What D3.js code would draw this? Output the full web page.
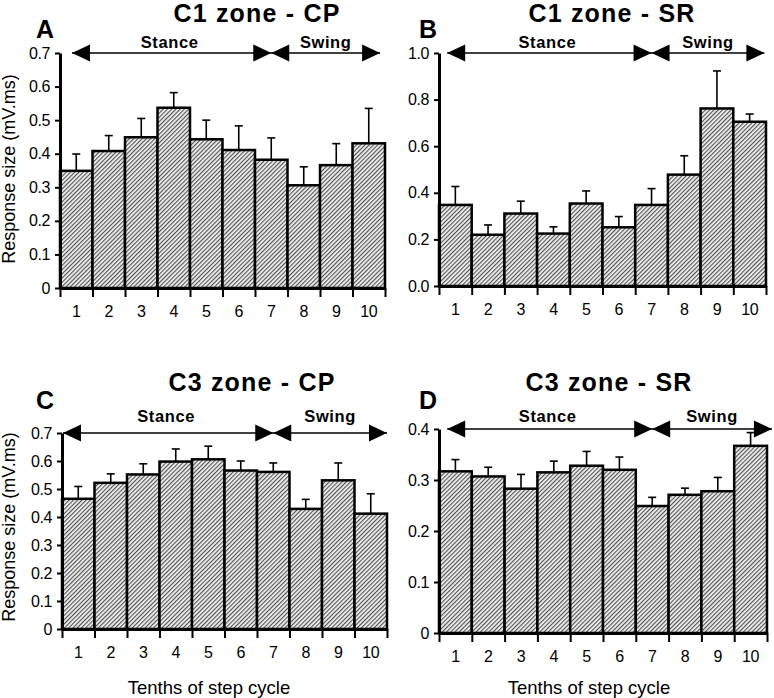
<!DOCTYPE html>
<html><head><meta charset="utf-8">
<script src="https://cdn.jsdelivr.net/npm/d3@7"></script>
<style>
body{margin:0;background:#fff;}
text{font-family:"Liberation Sans",Arial,sans-serif;fill:#000;}
</style></head>
<body><svg id="chart" width="774" height="698"></svg>
<script>
// ---- data ----
const categories = ["1","2","3","4","5","6","7","8","9","10"];
const meanA = [0.349,0.408,0.449,0.537,0.443,0.411,0.382,0.306,0.366,0.431];
const errA  = [0.050,0.046,0.056,0.045,0.057,0.072,0.065,0.055,0.064,0.104];
const meanB = [0.348,0.220,0.311,0.225,0.354,0.252,0.348,0.478,0.762,0.705];
const errB  = [0.079,0.042,0.053,0.029,0.054,0.046,0.070,0.081,0.161,0.033];
const meanC = [0.465,0.522,0.552,0.598,0.606,0.566,0.561,0.429,0.531,0.412];
const errC  = [0.044,0.032,0.038,0.045,0.047,0.034,0.032,0.034,0.062,0.071];
const meanD = [0.317,0.307,0.283,0.315,0.328,0.320,0.249,0.271,0.278,0.367];
const errD  = [0.023,0.018,0.028,0.022,0.028,0.025,0.017,0.013,0.027,0.026];
const ticksA = [0,0.1,0.2,0.3,0.4,0.5,0.6,0.7];
const ticksB = [0,0.2,0.4,0.6,0.8,1.0];
const ticksC = [0,0.1,0.2,0.3,0.4,0.5,0.6,0.7];
const ticksD = [0,0.1,0.2,0.3,0.4];
const titles = ["C1 zone - CP","C1 zone - SR","C3 zone - CP","C3 zone - SR"];
const letters = ["A","B","C","D"];
const phaseLabels = ["Stance","Swing"];
const yLabel = "Response size (mV.ms)";
const xLabel = "Tenths of step cycle";

// ---- layout ----
const panels = [
  {mean:meanA, err:errA, ticks:ticksA, max:0.7, fmt:d=>d===0?"0":d3.format(".1f")(d),
   x0:60, x1:385, yTop:53, y0:288, title:[257,22], letter:[36,38], phase:48,
   arrow:[0.37,6.5,9.85], ylab:[15,169], xlab:false},
  {mean:meanB, err:errB, ticks:ticksB, max:1.0, fmt:d3.format(".1f"),
   x0:439, x1:766, yTop:53, y0:286, title:[612,22], letter:[419,38], phase:48,
   arrow:[0.25,6.5,9.95], ylab:null, xlab:false},
  {mean:meanC, err:errC, ticks:ticksC, max:0.7, fmt:d=>d===0?"0":d3.format(".1f")(d),
   x0:62, x1:387, yTop:433, y0:629, title:[252,391], letter:[36,409], phase:422,
   arrow:[0.03,6.5,10.0], ylab:[15,527], xlab:[209,694]},
  {mean:meanD, err:errD, ticks:ticksD, max:0.4, fmt:d=>d===0?"0":d3.format(".1f")(d),
   x0:439, x1:767, yTop:429, y0:633, title:[609,391], letter:[419,409], phase:422,
   arrow:[0.25,6.5,10.15], ylab:null, xlab:[589,694]}
];

const svg = d3.select("#chart");
const defs = svg.append("defs");
const pat = defs.append("pattern").attr("id","hatch").attr("patternUnits","userSpaceOnUse")
  .attr("width",3).attr("height",3).attr("patternTransform","rotate(45)");
pat.append("rect").attr("width",3).attr("height",3).attr("fill","#f2f2f2");
pat.append("line").attr("x1",0.6).attr("y1",0).attr("x2",0.6).attr("y2",3)
  .attr("stroke","#4a4a4a").attr("stroke-width",1.1);

const tickFont = 16;
panels.forEach((p,i)=>{
  const g = svg.append("g");
  const x = d3.scaleBand().domain(categories).range([p.x0,p.x1]).padding(0);
  const xl = d3.scaleLinear().domain([0,categories.length]).range([p.x0,p.x1]);
  const y = d3.scaleLinear().domain([0,p.max]).range([p.y0,p.yTop]);

  // bars
  g.selectAll("rect.bar").data(p.mean).join("rect").attr("class","bar")
    .attr("x",(d,j)=>x(categories[j])).attr("width",x.bandwidth())
    .attr("y",d=>y(d)).attr("height",d=>y(0)-y(d))
    .attr("fill","url(#hatch)").attr("stroke","#000").attr("stroke-width",2.5);

  // error bars (upper only)
  const eg = g.append("g").attr("stroke","#000").attr("stroke-width",1.6);
  p.mean.forEach((m,j)=>{
    const cx = x(categories[j]) + x.bandwidth()/2;
    eg.append("line").attr("x1",cx).attr("x2",cx).attr("y1",y(m)).attr("y2",y(m+p.err[j]));
    eg.append("line").attr("x1",cx-4).attr("x2",cx+4).attr("y1",y(m+p.err[j])).attr("y2",y(m+p.err[j]));
  });

  // y axis
  const ya = g.append("g").attr("transform",`translate(${p.x0},0)`)
    .call(d3.axisLeft(y).tickValues(p.ticks).tickFormat(p.fmt).tickSize(5).tickSizeOuter(0).tickPadding(5));
  ya.select(".domain").attr("stroke-width",3);
  ya.selectAll(".tick line").attr("stroke-width",2);
  ya.selectAll("text").attr("font-size",tickFont).attr("font-family","Liberation Sans, Arial, sans-serif")
    .attr("letter-spacing",-0.4);

  // x axis ticks at boundaries
  const xa = g.append("g").attr("transform",`translate(0,${p.y0})`)
    .call(d3.axisBottom(xl).tickValues(d3.range(categories.length+1)).tickFormat("").tickSize(9).tickSizeOuter(0));
  xa.select(".domain").attr("stroke-width",3);
  xa.selectAll(".tick line").attr("stroke-width",2);
  // x labels
  const xb = g.append("g").attr("transform",`translate(0,${p.y0})`)
    .call(d3.axisBottom(x).tickSize(0).tickPadding(18));
  xb.select(".domain").remove();
  xb.selectAll("text").attr("font-size",tickFont).attr("font-family","Liberation Sans, Arial, sans-serif")
    .attr("letter-spacing",-0.4);

  // title and letter
  g.append("text").attr("x",p.title[0]).attr("y",p.title[1]).attr("text-anchor","middle")
    .attr("font-size",25).attr("font-weight","bold").attr("letter-spacing",1.2).text(titles[i]);
  g.append("text").attr("x",p.letter[0]).attr("y",p.letter[1])
    .attr("font-size",25).attr("font-weight","bold").text(letters[i]);

  // phase arrows
  const ay = p.yTop;
  const [a0,a1,a2] = p.arrow.map(v=>xl(v));
  const L=18, H=8.5;
  g.append("line").attr("x1",a0).attr("x2",a2).attr("y1",ay).attr("y2",ay)
    .attr("stroke","#000").attr("stroke-width",1.6);
  const tri = (tip,dir)=>`M${tip},${ay}L${tip+dir*L},${ay-H}L${tip+dir*L},${ay+H}Z`;
  [[a0,1],[a1,-1],[a1,1],[a2,-1]].forEach(([t,dd])=>{
    g.append("path").attr("d",tri(t,dd)).attr("fill","#000");
  });
  g.append("text").attr("x",(a0+a1)/2 - 2).attr("y",p.phase).attr("text-anchor","middle")
    .attr("font-size",16.5).attr("font-weight","bold").attr("letter-spacing",0.6).text(phaseLabels[0]);
  g.append("text").attr("x",(a1+a2)/2).attr("y",p.phase).attr("text-anchor","middle")
    .attr("font-size",16.5).attr("font-weight","bold").attr("letter-spacing",0.6).text(phaseLabels[1]);

  if (p.ylab) {
    g.append("text").attr("transform",`translate(${p.ylab[0]},${p.ylab[1]}) rotate(-90)`)
      .attr("text-anchor","middle").attr("font-size",18).text(yLabel);
  }
  if (p.xlab) {
    g.append("text").attr("x",p.xlab[0]).attr("y",p.xlab[1]).attr("text-anchor","middle")
      .attr("font-size",18.5).text(xLabel);
  }
});
</script></body></html>
